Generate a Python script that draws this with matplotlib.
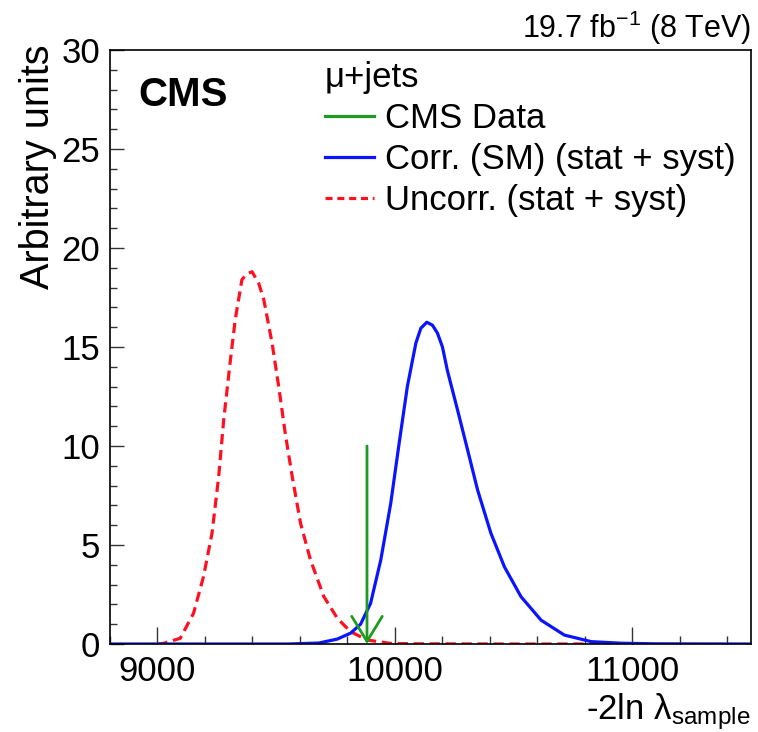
import numpy as np
import matplotlib
matplotlib.use("Agg")
import matplotlib.pyplot as plt
from matplotlib.lines import Line2D
from matplotlib.ticker import MultipleLocator

# Fonts: Helvetica look-alike
plt.rcParams['font.family'] = ['Liberation Sans', 'DejaVu Sans']
plt.rcParams['mathtext.fontset'] = 'custom'
plt.rcParams['mathtext.rm'] = 'Liberation Sans'
plt.rcParams['mathtext.it'] = 'Liberation Sans:italic'
plt.rcParams['mathtext.bf'] = 'Liberation Sans:bold'

# Data

# Uncorrelated (stat + syst), red dashed
uncorr_x = [9000, 9025, 9096, 9152, 9194, 9230, 9258, 9279, 9307, 9328, 9356,
            9377, 9399, 9427, 9448, 9483, 9511, 9539, 9568, 9603, 9645, 9701,
            9758, 9814, 9885, 9983, 10100, 10500, 10950]
uncorr_y = [0.0, 0.03, 0.29, 1.55, 3.4, 5.6, 8.45, 11.3, 14.3, 16.4, 18.4,
            18.7, 18.8, 18.2, 17.4, 15.2, 13.0, 10.6, 8.45, 6.1, 4.24, 2.4,
            1.3, 0.62, 0.2, 0.03, 0.01, 0.0, 0.0]

# Correlated (SM) (stat + syst), blue solid
corr_x = [8800, 9550, 9680, 9758, 9814, 9856, 9898, 9941, 9983, 10018, 10053,
          10089, 10110, 10135, 10159, 10180, 10201, 10222, 10265, 10307, 10349,
          10405, 10462, 10532, 10617, 10715, 10828, 10955, 11100, 11500]
corr_y = [0.0, 0.0, 0.05, 0.25, 0.55, 1.0, 2.05, 4.24, 7.1, 10.1, 13.0,
          15.2, 15.95, 16.25, 16.1, 15.7, 15.0, 13.8, 11.8, 9.8, 7.78,
          5.6, 3.9, 2.39, 1.2, 0.45, 0.12, 0.04, 0.01, 0.0]

# CMS data value (arrow)
data_value = 9883
arrow_top = 10

labels = ['CMS Data', 'Corr. (SM) (stat + syst)', 'Uncorr. (stat + syst)']

green = '#1e9a1e'
blue = '#0a14ff'
red = '#ff1020'

fig = plt.figure(figsize=(7.58, 7.32), dpi=100)
ax = fig.add_axes([0.1451, 0.1202, 0.8453, 0.8115])

ax.plot(uncorr_x, uncorr_y, color=red, lw=2.3, linestyle=(0, (3.2, 1.8)))
ax.plot(corr_x, corr_y, color=blue, lw=2.3)

ax.annotate('', xy=(data_value, 0), xytext=(data_value, arrow_top),
            arrowprops=dict(arrowstyle='->, head_length=0.9, head_width=0.55',
                            color=green, lw=2.0, shrinkA=0, shrinkB=0,
                            mutation_scale=20))

ax.set_xlim(8800, 11500)
ax.set_ylim(0, 30)

ax.xaxis.set_major_locator(MultipleLocator(1000))
ax.xaxis.set_minor_locator(MultipleLocator(200))
ax.yaxis.set_major_locator(MultipleLocator(5))
ax.yaxis.set_minor_locator(MultipleLocator(1))

ax.tick_params(axis='both', which='both', direction='in', colors='#333333',
               labelcolor='black', labelsize=25, width=1.0)
ax.tick_params(axis='x', which='major', length=12, pad=8)
ax.tick_params(axis='x', which='minor', length=6)
ax.tick_params(axis='y', which='major', length=10, pad=7)
ax.tick_params(axis='y', which='minor', length=5)
for s in ax.spines.values():
    s.set_linewidth(1.2)

ax.set_ylabel('Arbitrary units', fontsize=28.5, loc='top')
ax.yaxis.set_label_coords(-0.082, 1.009)
ax.set_xlabel('-2ln \u03bb$_{\\mathrm{sample}}$', fontsize=25, loc='right',
              labelpad=2)

ax.text(0.045, 0.906, 'CMS', transform=ax.transAxes, fontsize=29,
        fontweight='bold', ha='left', va='baseline')
ax.text(1.0, 1.021, r'19.7 fb$^{-1}$ (8 TeV)', transform=ax.transAxes,
        fontsize=22, ha='right', va='baseline')

handles = [Line2D([], [], color=green, lw=2.3),
           Line2D([], [], color=blue, lw=2.3),
           Line2D([], [], color=red, lw=2.3, linestyle=(0, (2.2, 1.5)))]
ax.legend(handles, labels, title='\u03bc+jets', loc='upper left',
          bbox_to_anchor=(0.335, 0.981), frameon=False, fontsize=25,
          title_fontsize=25, alignment='left', handlelength=1.41,
          handletextpad=0.32, labelspacing=0.23, borderpad=0,
          borderaxespad=0)

fig.savefig('out.png', dpi=100)
